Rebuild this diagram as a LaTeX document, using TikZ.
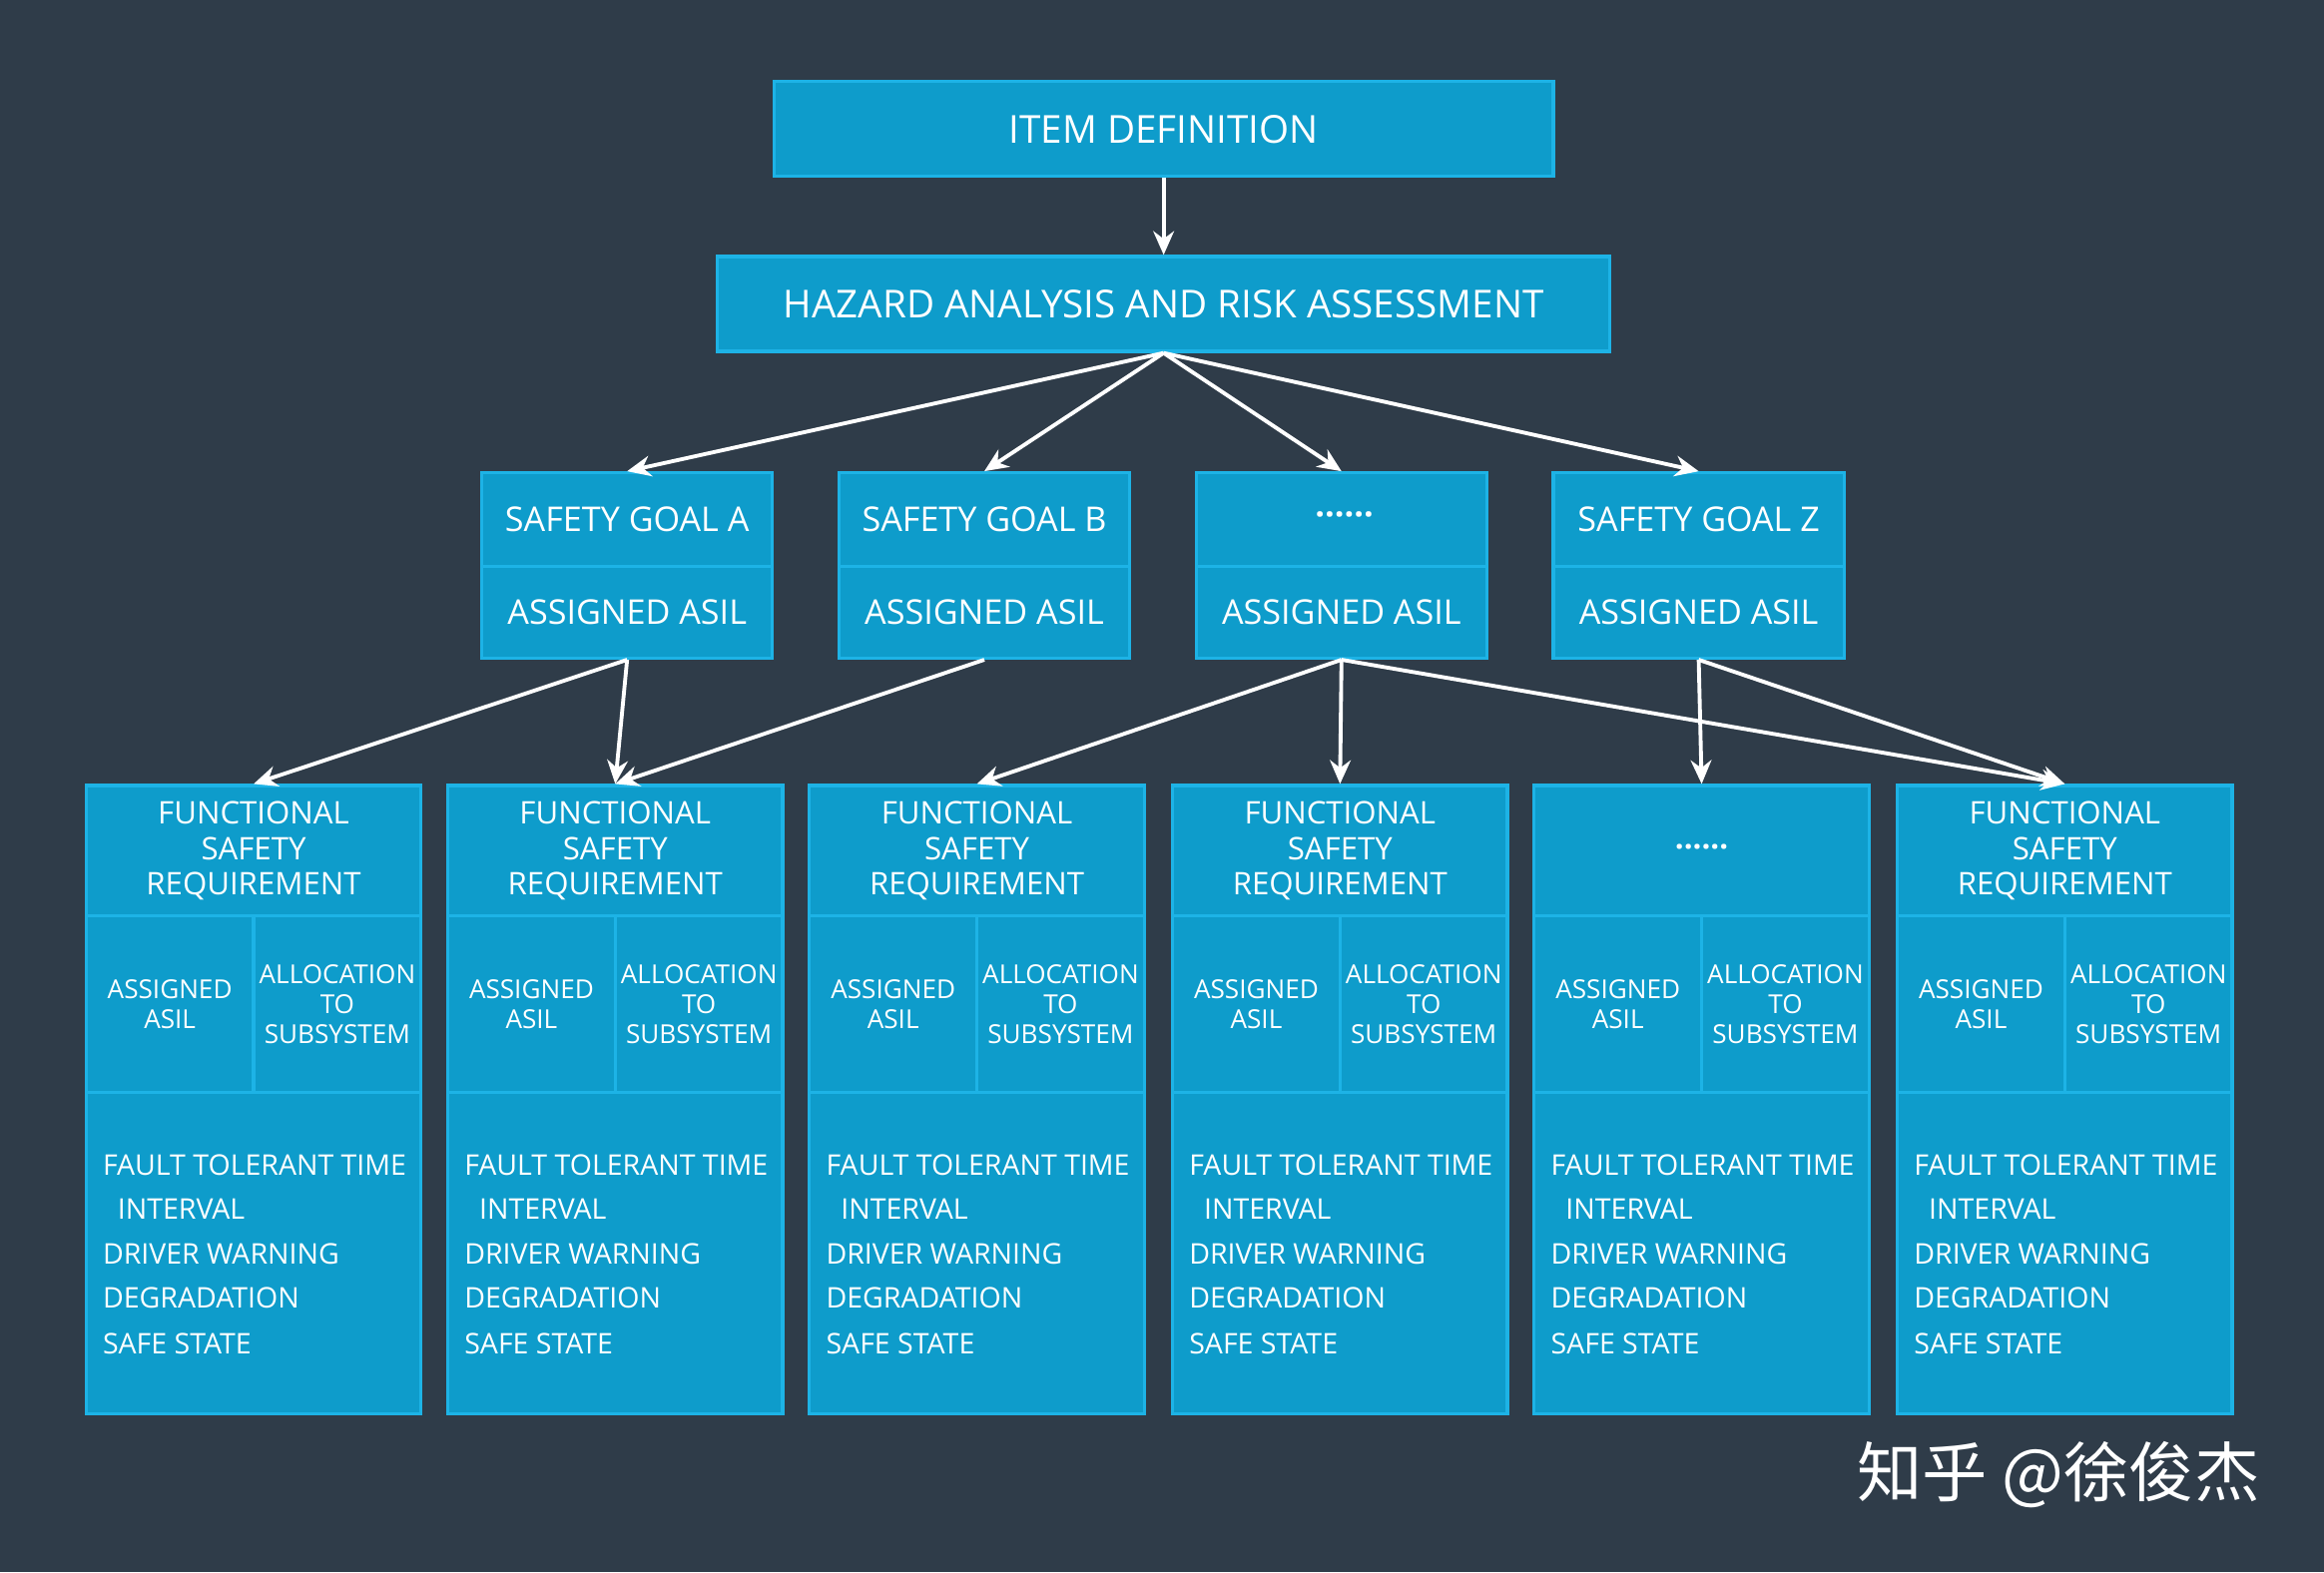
\documentclass[tikz,border=0pt]{standalone}
\usepackage{fontspec}
\setmainfont{Open Sans}
\newfontfamily\cjk{Noto Sans CJK SC}
\usetikzlibrary{arrows.meta}
\definecolor{bg}{HTML}{2F3C49}
\definecolor{bfill}{HTML}{0E9CCB}
\definecolor{bline}{HTML}{1DB3E6}
\begin{document}
\begin{tikzpicture}[x=0.5pt,y=-0.5pt,
 box/.style={draw=bline,fill=bfill,line width=1.1pt,text=white,inner sep=0pt,anchor=north west},
 arr/.style={draw=white,line width=1.3pt,-{Stealth[length=8pt,width=7pt]}},
 lst/.style={text=white,anchor=west,font=\fontsize{9.6}{11}\selectfont,inner sep=0pt}]
\fill[bg] (0,0) rectangle (1568,1061);
\useasboundingbox (0,0) rectangle (1568,1061);
\node[box,minimum width=263pt,minimum height=32pt,font=\fontsize{13}{15}\selectfont] (item) at (521,54) {ITEM DEFINITION};
\node[box,minimum width=301pt,minimum height=32pt,font=\fontsize{13}{15}\selectfont] (hara) at (483,172) {HAZARD ANALYSIS AND RISK ASSESSMENT};
\foreach \n/\x/\t in {ga/324/SAFETY GOAL A,gb/565/SAFETY GOAL B,gc/806/\textbf{\,······},gz/1047/SAFETY GOAL Z}{
 \node[box,minimum width=98pt,minimum height=31.5pt,font=\fontsize{11.5}{13}\selectfont] (\n) at (\x,318) {\t};
 \node[box,minimum width=98pt,minimum height=31pt,font=\fontsize{11.5}{13}\selectfont] (\n b) at (\x,381) {ASSIGNED ASIL};
}
\foreach \n/\x/\k in {f1/57/0,f2/301/0,f3/545/0,f4/790/0,f5/1034/1,f6/1279/0}{
 \ifnum\k=1
 \node[box,minimum width=113pt,minimum height=44pt,font=\fontsize{10.5}{12}\selectfont] (\n) at (\x,529) {\textbf{······}};
 \else
 \node[box,minimum width=113pt,minimum height=44pt,font=\fontsize{10.5}{12}\selectfont,align=center] (\n) at (\x,529) {FUNCTIONAL\\SAFETY\\REQUIREMENT};
 \fi
 \node[box,minimum width=56.5pt,minimum height=59.5pt,font=\fontsize{8.8}{10.2}\selectfont,align=center] (\n a) at (\x,617) {ASSIGNED\\ASIL};
 \node[box,minimum width=56.5pt,minimum height=59.5pt,font=\fontsize{8.8}{10.2}\selectfont,align=center] (\n s) at (\x+113,617) {ALLOCATION\\TO\\SUBSYSTEM};
 \node[box,minimum width=113pt,minimum height=108.5pt] (\n l) at (\x,736) {};
 \node[lst] (\n l1) at (\x+12,786) {FAULT TOLERANT TIME};
 \node[lst] (\n l2) at (\x+22,816) {INTERVAL};
 \node[lst] (\n l3) at (\x+12,846) {DRIVER WARNING};
 \node[lst] (\n l4) at (\x+12,876) {DEGRADATION};
 \node[lst] (\n l5) at (\x+12,907) {SAFE STATE};
}
\draw[arr] (item.south) -- (hara.north);
\foreach \g in {ga,gb,gc,gz} \draw[arr] (hara.south) -- (\g.north);
\draw[arr] (gab.south) -- (f1.north);
\draw[arr] (gab.south) -- (f2.north);
\draw[arr] (gbb.south) -- (f2.north);
\draw[arr] (gcb.south) -- (f3.north);
\draw[arr] (gcb.south) -- (f4.north);
\draw[arr] (gcb.south) -- (f6.north);
\draw[arr] (gzb.south) -- (f5.north);
\draw[arr] (gzb.south) -- (f6.north);
\node[text=white,font=\cjk\fontsize{22}{24}\selectfont,anchor=east,inner sep=0pt] (wm) at (1525,995) {知乎 @徐俊杰};
\end{tikzpicture}
\end{document}
